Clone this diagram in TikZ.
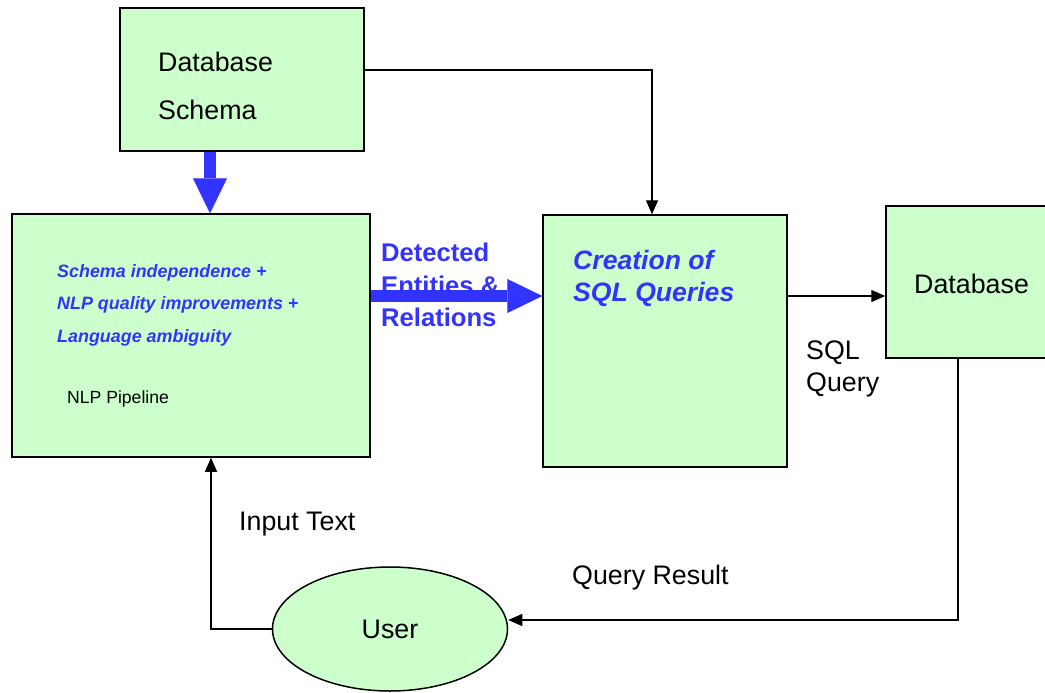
\documentclass[tikz,border=0pt]{standalone}
\usepackage{fontspec}
\setmainfont{Liberation Sans}
\usetikzlibrary{positioning,arrows.meta,shapes.geometric}
\definecolor{boxg}{HTML}{CCFFCC}
\definecolor{hl}{HTML}{3333FF}

\tikzset{
  blk/.style={draw, line width=1.5pt, fill=boxg, inner sep=0pt},
  txt/.style={inner sep=0pt, anchor=west, align=left},
  arr/.style={line width=1.4pt, -{Triangle[length=14pt,width=12pt]}},
  fat/.style={draw=hl, line width=12pt, -{Triangle[length=35pt,width=34pt,line width=0.1pt]}},
}

\begin{document}
\begin{tikzpicture}[font=\fontsize{26.8}{32}\selectfont, x=1pt, y=-1pt]
\useasboundingbox (0,0) rectangle (1045,693);
% boxes
\node[blk, minimum width=244pt, minimum height=143pt] (schema) at (242,79.5) {};
\node[blk, minimum width=358pt, minimum height=243pt] (nlp) at (191,335.5) {};
\node[blk, minimum width=244pt, minimum height=252pt] (sql) at (665,341) {};
\node[blk, minimum width=162pt, minimum height=152pt] (db) at (967,282) {};
\node[blk, ellipse, minimum width=235pt, minimum height=124pt] (user) at (390,629) {User};
\coordinate (flow) at (0,296);
% texts
\node[txt, font=\fontsize{26.8}{48}\selectfont] (schematxt) at (158,86) {Database\\Schema};
\node[txt, text=hl, font=\fontsize{17.9}{32.5}\selectfont\bfseries\itshape] (aims) at (57,305) {Schema independence +\\NLP quality improvements +\\Language ambiguity};
\node[txt, font=\fontsize{17.6}{20}\selectfont] (nlptxt) at (67,399) {NLP Pipeline};
\node[txt, text=hl, font=\fontsize{25.6}{32.5}\selectfont\bfseries] (detect) at (381,285) {Detected\\Entities \&\\Relations};
\node[txt, text=hl, font=\fontsize{26.6}{32}\selectfont\bfseries\itshape] (create) at (573,278) {Creation of\\SQL Queries};
\node[txt] (dbtxt) at (914,284) {Database};
\node[txt] (sqlq) at (806,369) {SQL\\Query};
\node[txt] (input) at (239,524) {Input Text};
\node[txt] (result) at (572,578) {Query Result};
% connectors
\draw[fat] ([xshift=-32pt]schema.south) -- ([xshift=-32pt]schema.south |- nlp.north);
\draw[fat] (nlp.east |- flow) -- (sql.west |- flow);
\draw[arr] ([yshift=9.5pt]schema.east) -| ([xshift=-13pt]sql.north);
\draw[arr] (sql.east |- flow) -- (db.west |- flow);
\draw[arr] ([xshift=-9pt]db.south) |- ([yshift=9pt]user.east);
\draw[arr] (user.west) -| ([xshift=20pt]nlp.south);
\end{tikzpicture}
\end{document}
